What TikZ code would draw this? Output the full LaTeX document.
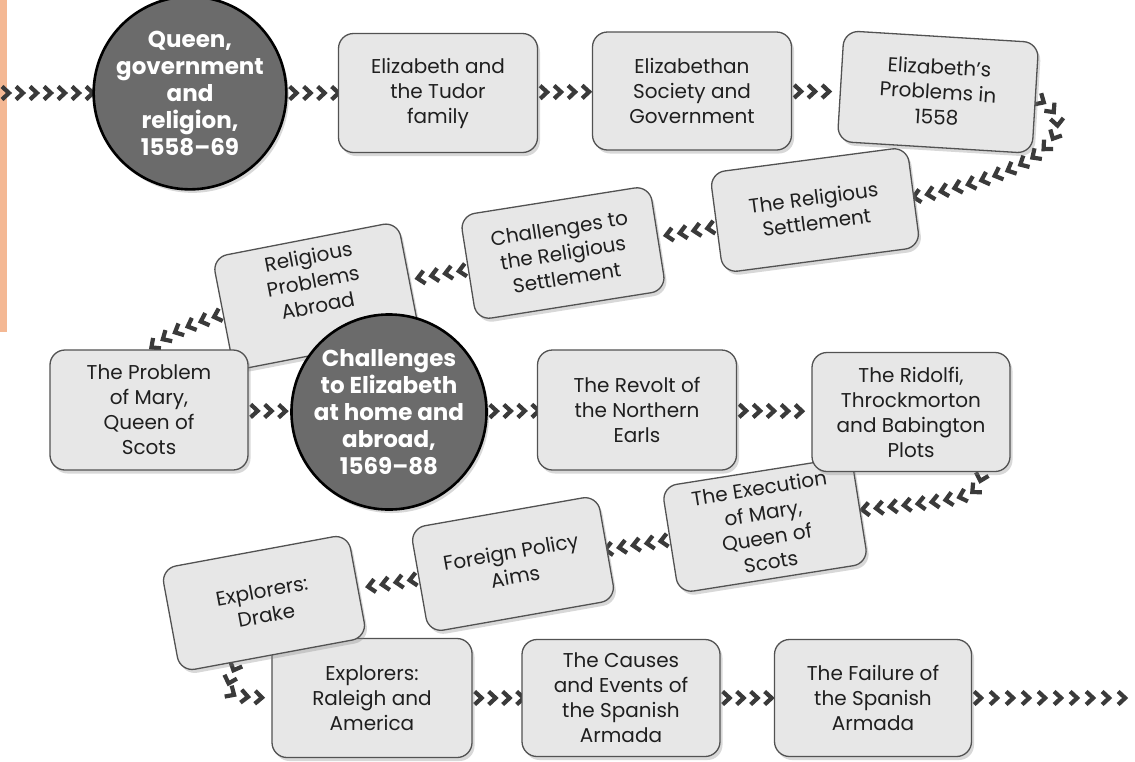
\documentclass[tikz,border=0pt]{standalone}
\usepackage{fontspec}
\setmainfont{Poppins}
\usetikzlibrary{decorations.markings,shadows}
\definecolor{boxfill}{HTML}{E7E7E7}
\definecolor{boxline}{HTML}{525252}
\definecolor{circfill}{HTML}{6B6B6B}
\definecolor{chevgray}{HTML}{3A3A3A}
\definecolor{pageorange}{HTML}{F4B894}
\pgfdeclarelayer{bg}
\pgfsetlayers{bg,main}
\tikzset{
  box/.style={rectangle, rounded corners=15pt, draw=boxline, line width=1.3pt, fill=boxfill, align=center, inner sep=0pt, text=black!88, font=\fontsize{20}{25}\selectfont, drop shadow={shadow xshift=2.5pt, shadow yshift=-3.5pt, opacity=0.3}},
  circ/.style={circle, draw=black, line width=2.6pt, fill=circfill, minimum size=178pt, inner sep=0pt, align=center, text=white, font=\fontsize{23}{27}\selectfont\bfseries, drop shadow={shadow xshift=2.5pt, shadow yshift=-3.5pt, opacity=0.3}},
  chevline/.style={draw=chevgray, line width=4.2pt, line join=miter, line cap=butt},
  chevs/.style={postaction={decorate}, decoration={markings, mark=between positions 6pt and 1 step #1 with {\draw[chevline] (-4pt,6.5pt) -- (3pt,0pt) -- (-4pt,-6.5pt);}}},
  chevs/.default=14pt
}
\begin{document}
\begin{tikzpicture}[x=1pt,y=-1pt]
\useasboundingbox (0,0) rectangle (1135,761);
\node[circ] (c1) at (190,93) {Queen,\\government\\and\\religion,\\1558–69};
\node[box, minimum width=199pt, minimum height=119pt] (tudor) at (438,93) {Elizabeth and\\the Tudor\\family};
\node[box, minimum width=199pt, minimum height=118pt] (society) at (692,91) {Elizabethan\\Society and\\Government};
\node[box, minimum width=199pt, minimum height=101pt, rotate=7.5] (rs) at (815,210) {The Religious\\Settlement};
\node[box, minimum width=195pt, minimum height=111pt, rotate=-3.5] (prob) at (938,92) {Elizabeth's\\Problems in\\1558};
\node[box, minimum width=192pt, minimum height=106pt, rotate=9] (crs) at (563,253) {Challenges to\\the Religious\\Settlement};
\node[box, minimum width=189pt, minimum height=115pt, rotate=11] (rpa) at (316,296) {Religious\\Problems\\Abroad\\[6pt]};
\node[box, minimum width=198pt, minimum height=120pt] (mary) at (149,410) {The Problem\\of Mary,\\Queen of\\Scots};
\node[circ, minimum size=174pt] (c2) at (389,412) {Challenges\\to Elizabeth\\at home and\\abroad,\\1569–88};
\node[box, minimum width=199pt, minimum height=120pt] (revolt) at (637,410) {The Revolt of\\the Northern\\Earls};
\node[box, minimum width=192pt, minimum height=108pt, rotate=9] (exec) at (765,525) {The Execution\\of Mary,\\Queen of\\Scots};
\node[box, minimum width=198pt, minimum height=119pt] (ridolfi) at (911,412) {The Ridolfi,\\Throckmorton\\and Babington\\Plots};
\node[box, minimum width=190pt, minimum height=106pt, rotate=10] (foreign) at (513,564) {Foreign Policy\\Aims};
\node[box, minimum width=200pt, minimum height=119pt] (raleigh) at (372,698) {Explorers:\\Raleigh and\\America};
\node[box, minimum width=190pt, minimum height=105pt, rotate=10.5] (drake) at (264,603) {Explorers:\\Drake};
\node[box, minimum width=198pt, minimum height=117pt] (causes) at (621,698) {The Causes\\and Events of\\the Spanish\\Armada};
\node[box, minimum width=197pt, minimum height=117pt] (failure) at (873,698) {The Failure of\\the Spanish\\Armada};
\begin{pgfonlayer}{bg}
\fill[white] (0,0) rectangle (1135,761);
\fill[pageorange] (0,0) rectangle (7,332);
\coordinate (s0) at (0,93);
\coordinate (e0) at (1135,698);
\path[chevs] (s0) -- (c1);
\path[chevs] (c1) -- (tudor);
\path[chevs] (tudor) -- (society);
\path[chevs] (society) -- (prob);
\path[chevs] (prob.east) .. controls (1078,118) and (1068,168) .. (rs.east);
\path[chevs] (rs) -- (crs);
\path[chevs] (crs) -- (rpa);
\path[chevs] (rpa.west) .. controls (192,324) and (170,332) .. (mary.north);
\path[chevs] (mary) -- (c2);
\path[chevs] (c2) -- (revolt);
\path[chevs] (revolt) -- (ridolfi);
\path[chevs] (ridolfi.-40) .. controls (976,498) .. (exec.east);
\path[chevs] (exec) -- (foreign);
\path[chevs] (foreign) -- (drake);
\path[chevs] (drake.-125) .. controls (222,696) .. (raleigh.west);
\path[chevs] (raleigh) -- (causes);
\path[chevs] (causes) -- (failure);
\path[chevs=16pt] (failure) -- (e0);
\end{pgfonlayer}
\end{tikzpicture}
\end{document}
